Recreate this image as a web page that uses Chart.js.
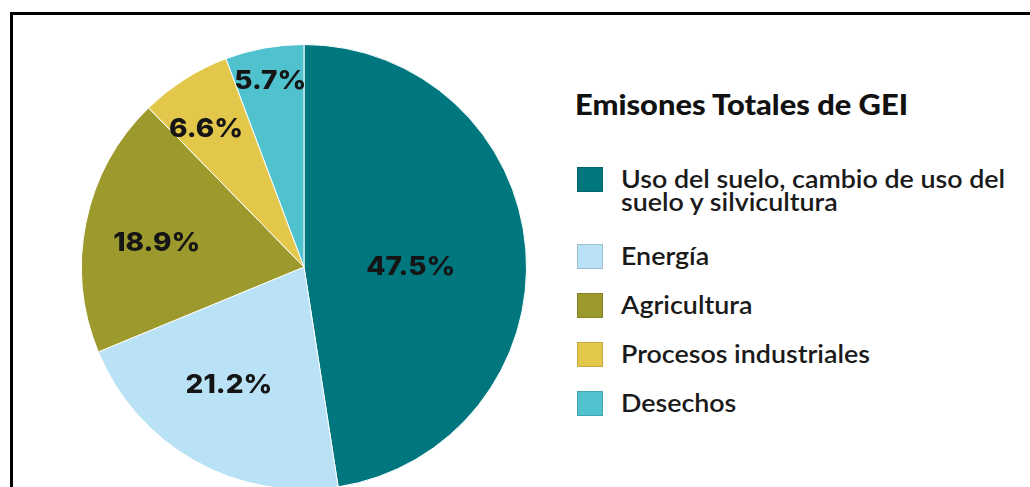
<!DOCTYPE html>
<html>
<head>
<meta charset="utf-8">
<script src="https://cdn.jsdelivr.net/npm/chart.js@4.4.1/dist/chart.umd.min.js"></script>
<style>
    html, body { margin: 0; padding: 0; background: #fff; }
    body { width: 1030px; height: 487px; overflow: hidden; position: relative; font-family: Lato, "Open Sans", sans-serif; }
    #marco { position: absolute; left: 10px; top: 12px; width: 1040px; height: 500px; border-left: 3px solid #000; border-top: 3px solid #000; }
    #pie-wrap { position: absolute; left: 81px; top: 44px; width: 446px; height: 446px; }
    #titulo { position: absolute; left: 575px; top: 87px; margin: 0; font-size: 28px; font-weight: 900; color: #111; white-space: nowrap; transform-origin: left center; }
    #leyenda { position: absolute; left: 577px; top: 167px; margin: 0; padding: 0; list-style: none; }
    #leyenda li { display: flex; align-items: flex-start; margin-bottom: 24px; }
    #leyenda li:first-child { margin-bottom: 31px; }
    #leyenda .caja { width: 26px; height: 25px; flex: none; margin-right: 18px; box-sizing: border-box; border: 1px solid rgba(0,0,0,0.15); }
    #leyenda .txt { font-size: 24px; font-weight: 600; line-height: 23px; color: #1a1a1a; white-space: pre; transform-origin: left top; display: inline-block; }
</style>
</head>
<body>
<div id="marco"></div>
<div id="pie-wrap"><canvas id="chart-gei"></canvas></div>
<h3 id="titulo">Emisones Totales de GEI</h3>
<ul id="leyenda"></ul>
<script>
// categorias y valores (porcentaje)
const categorias = [
    ["Uso del suelo, cambio de uso del", "suelo y silvicultura"],
    "Energía",
    "Agricultura",
    "Procesos industriales",
    "Desechos"
];
const valores = [47.5, 21.2, 18.9, 6.6, 5.7];
const etiquetas = ["47.5%", "21.2%", "18.9%", "6.6%", "5.7%"];
const colores = ["#00777e", "#b9e2f6", "#9d9a2d", "#e3c74b", "#4fc2ce"];

// distancia de cada etiqueta al centro (fraccion del radio) y giro en grados
const radioEtiq = [0.48, 0.63, 0.67, 0.76, 0.85];
const giroEtiq = [4.5, 3, -2.5, -3, 0];

const etiquetasPlugin = {
    id: "etiquetasPie",
    afterDatasetsDraw(chart) {
        const ctx = chart.ctx;
        const meta = chart.getDatasetMeta(0);
        ctx.save();
        ctx.font = "800 26px Inter, 'Open Sans', sans-serif";
        ctx.fillStyle = "#151515";
        ctx.textAlign = "center";
        ctx.textBaseline = "middle";
        // las cifras del original son mas anchas, se estiran en horizontal
        const sx = 89 / ctx.measureText("47.5%").width;
        meta.data.forEach((arc, i) => {
            const p = arc.getProps(["x", "y", "startAngle", "endAngle", "outerRadius"], true);
            const ang = (p.startAngle + p.endAngle) / 2 + giroEtiq[i] * Math.PI / 180;
            const r = p.outerRadius * radioEtiq[i];
            const x = p.x + Math.cos(ang) * r;
            const y = p.y + Math.sin(ang) * r;
            ctx.save();
            ctx.translate(x, y);
            ctx.scale(sx, 1);
            ctx.fillText(etiquetas[i], 0, 0);
            ctx.restore();
        });
        ctx.restore();
    }
};

const chart = new Chart(document.getElementById("chart-gei"), {
    type: "pie",
    data: {
        labels: categorias,
        datasets: [{
            data: valores,
            backgroundColor: colores,
            borderColor: "#ffffff",
            borderWidth: 1
        }]
    },
    options: {
        responsive: true,
        maintainAspectRatio: false,
        animation: false,
        layout: { padding: 0 },
        plugins: {
            legend: { display: false },
            tooltip: { enabled: false }
        }
    },
    plugins: [etiquetasPlugin]
});

// leyenda en html a partir del chart
const ul = document.getElementById("leyenda");
chart.options.plugins.legend.labels.generateLabels(chart).forEach(item => {
    const li = document.createElement("li");
    const caja = document.createElement("span");
    caja.className = "caja";
    caja.style.background = item.fillStyle;
    const txt = document.createElement("span");
    txt.className = "txt";
    txt.textContent = Array.isArray(item.text) ? item.text.join("\n") : item.text;
    li.appendChild(caja);
    li.appendChild(txt);
    ul.appendChild(li);
});

// ajustar ancho del titulo y de la primera linea de la leyenda
function ajustarAncho(el, ancho) {
    const w = el.getBoundingClientRect().width;
    if (w > 0) el.style.transform = `scaleX(${ancho / w})`;
}
ajustarAncho(document.getElementById("titulo"), 333);
ajustarAncho(ul.querySelector(".txt"), 384);
const escala = ul.querySelector(".txt").style.transform;
ul.querySelectorAll(".txt").forEach(t => t.style.transform = escala);
</script>
</body>
</html>
